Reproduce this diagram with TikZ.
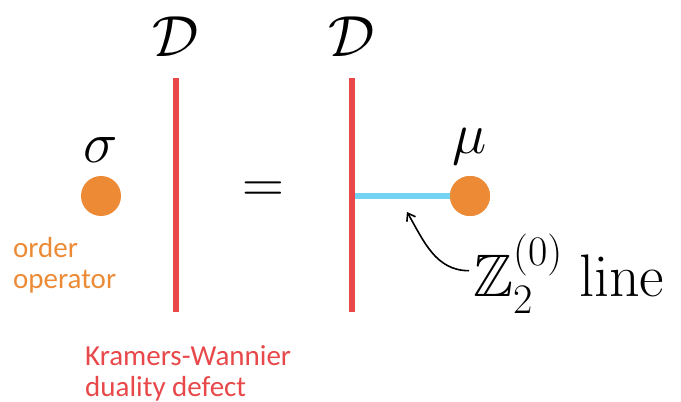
\RequirePackage{fix-cm}
\documentclass[tikz,border=0pt]{standalone}
\usepackage{amsmath,amssymb}
\usepackage[no-math]{fontspec}
\newfontfamily\slidefont{Carlito}
\usetikzlibrary{positioning,arrows.meta}
\definecolor{kwred}{HTML}{E8484A}
\definecolor{oporange}{HTML}{EC8A35}
\definecolor{zcyan}{HTML}{72D4F2}
\tikzset{
    defect/.style={draw=kwred,line width=6pt},
    symline/.style={draw=zcyan,line width=6pt},
    opdot/.style={circle,fill=oporange,minimum size=40pt,inner sep=0pt},
    bigmath/.style={font=\fontsize{58}{60}\selectfont,inner sep=0pt},
    note/.style={font=\slidefont\fontsize{29}{31}\selectfont,align=left,inner sep=0pt},
    pointer/.style={->,>={Straight Barb[length=7pt,width=10pt]},line width=1.6pt}
}
\begin{document}
\begin{tikzpicture}[x=1pt,y=1pt]
    \useasboundingbox (0,0) rectangle (681,402);
    % left side: order operator next to the defect
    \coordinate (d1top) at (175.5,324);
    \coordinate (d1bot) at (175.5,90);
    \draw[defect] (d1top) -- (d1bot);
    \node[bigmath,above=21pt of d1top] (D1) {$\mathcal{D}$};
    \node[opdot] (sdot) at (101,206) {};
    \node[bigmath,above=13pt of sdot] (sigma) {$\sigma$};
    \node[note,text=oporange,anchor=north west] (ordlbl) at (13,165) {order\\operator};
    \node[note,text=kwred,anchor=north west] (kwlbl) at (85,57) {Kramers-Wannier\\duality defect};
    % equals
    \node[bigmath] (eq) at (263,210) {$=$};
    % right side: disorder operator on a Z2 line
    \coordinate (d2top) at (352,324);
    \coordinate (d2bot) at (352,90);
    \coordinate (joint) at (352,206);
    \node[opdot] (mdot) at (470,206) {};
    \draw[symline] (joint) -- (mdot.center);
    \node[opdot] at (mdot) {};
    \draw[defect] (d2top) -- (d2bot);
    \node[bigmath,above=21pt of d2top] (D2) {$\mathcal{D}$};
    \node[bigmath,above=11pt of mdot] (mu) {$\mu$};
    \node[font=\fontsize{60}{62}\selectfont,inner sep=0pt,anchor=base west] (zlbl) at (473,105) {$\mathbb{Z}_2^{(0)}\;\mathrm{line}$};
    \coordinate (tip) at (407,190);
    \draw[pointer] ([xshift=-4pt,yshift=3pt]zlbl.west) to[out=180,in=-60] (tip);
\end{tikzpicture}
\end{document}
